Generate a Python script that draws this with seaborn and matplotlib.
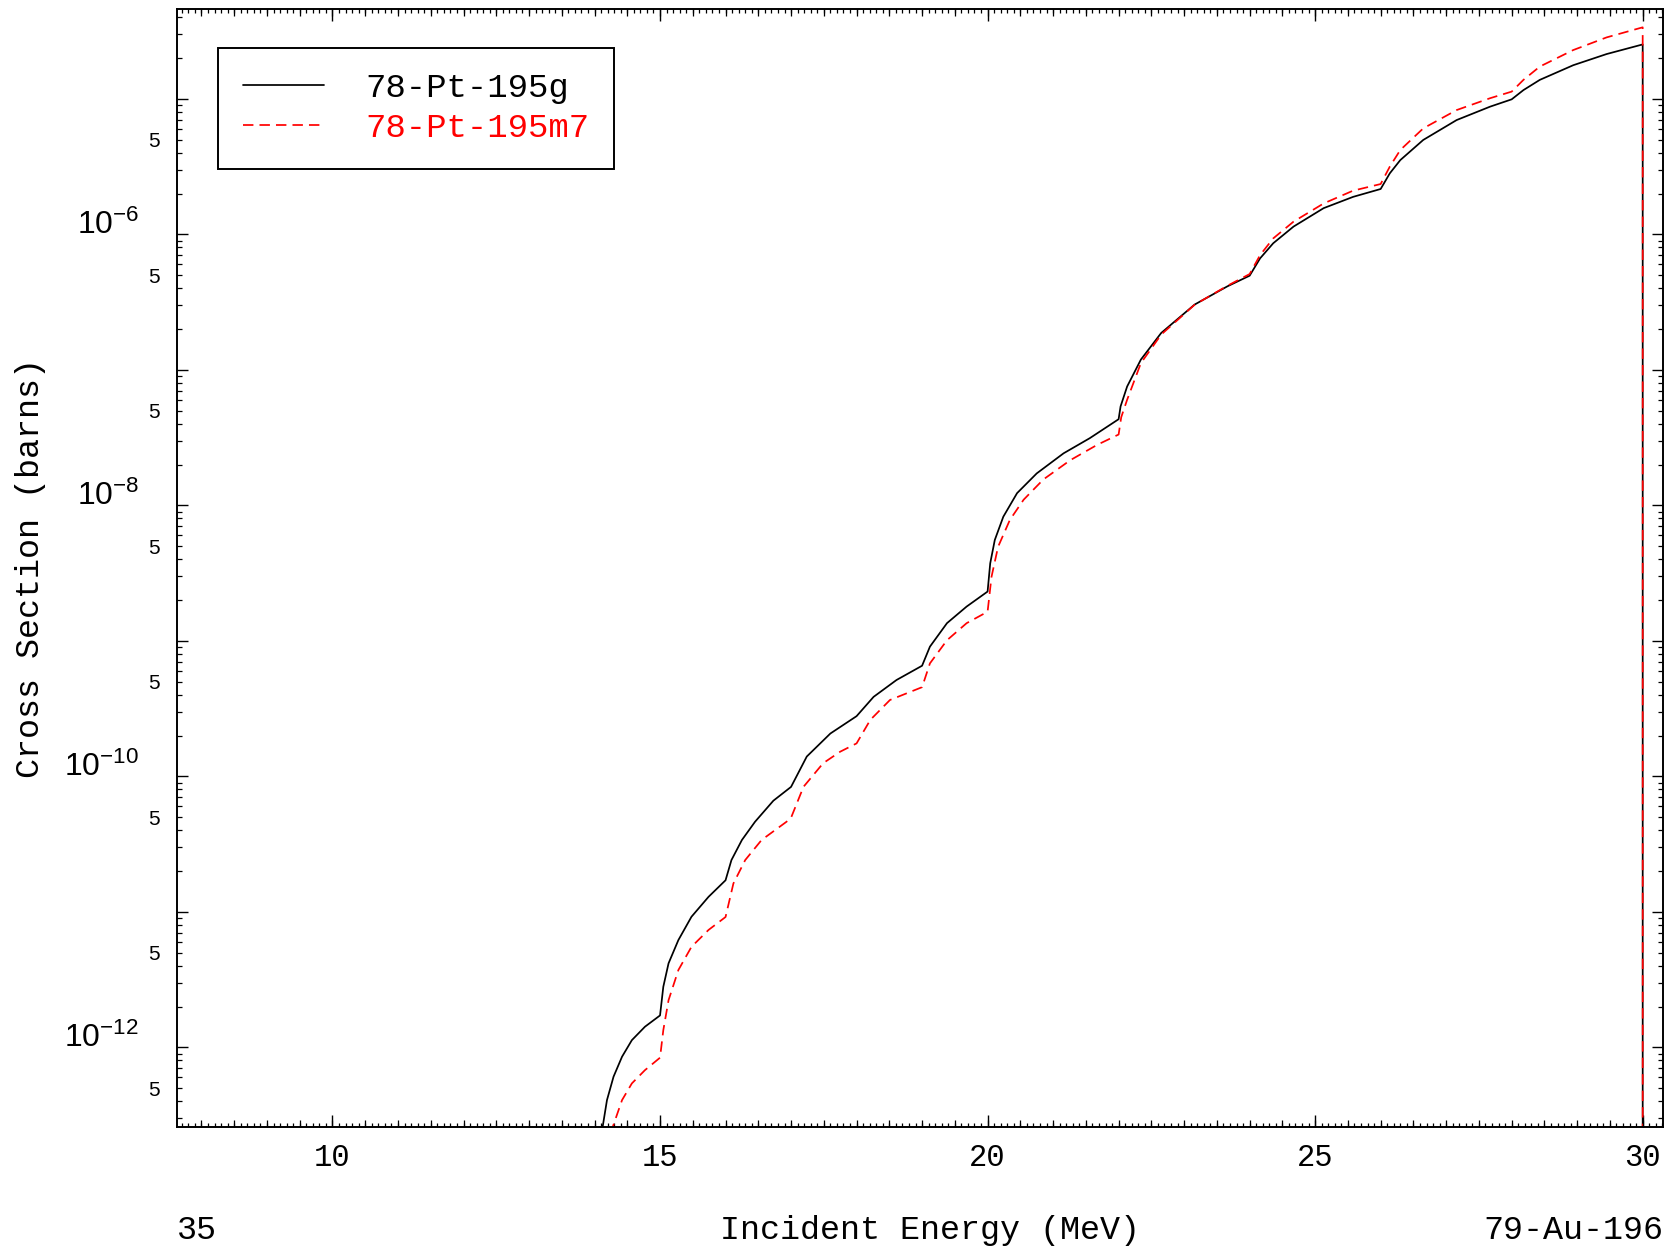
import numpy as np
import pandas as pd
import matplotlib
matplotlib.use("Agg")
import matplotlib.pyplot as plt
import seaborn as sns
from matplotlib.ticker import (FuncFormatter, MultipleLocator,
                               NullFormatter, NullLocator, FixedLocator)

# ---------------- data ----------------
energy_g = [14.08, 14.12, 14.19, 14.29, 14.42, 14.57, 14.77, 15.00, 15.05, 15.13,
            15.28, 15.48, 15.74, 16.00, 16.09, 16.25, 16.45, 16.73, 17.00, 17.24,
            17.60, 18.00, 18.26, 18.61, 19.00, 19.12, 19.38, 19.68, 20.00, 20.04,
            20.11, 20.24, 20.45, 20.75, 21.16, 21.56, 22.00, 22.03, 22.13, 22.34,
            22.65, 23.16, 23.66, 24.00, 24.16, 24.36, 24.67, 25.13, 25.58, 26.00,
            26.14, 26.30, 26.65, 27.16, 27.67, 28.00, 28.18, 28.43, 28.94, 29.45,
            30.00, 30.00]
xs_g = [1.74e-13, 2.52e-13, 4.08e-13, 6.07e-13, 8.53e-13, 1.13e-12, 1.42e-12, 1.72e-12, 2.80e-12, 4.17e-12,
        6.19e-12, 9.20e-12, 1.29e-11, 1.71e-11, 2.41e-11, 3.39e-11, 4.62e-11, 6.61e-11, 8.36e-11, 1.40e-10,
        2.07e-10, 2.78e-10, 3.86e-10, 5.14e-10, 6.55e-10, 9.06e-10, 1.35e-9, 1.79e-9, 2.31e-9, 3.73e-9,
        5.55e-9, 8.24e-9, 1.23e-8, 1.72e-8, 2.42e-8, 3.13e-8, 4.32e-8, 5.37e-8, 7.53e-8, 1.19e-7,
        1.87e-7, 3.03e-7, 4.13e-7, 4.95e-7, 6.65e-7, 8.59e-7, 1.14e-6, 1.56e-6, 1.89e-6, 2.16e-6,
        2.82e-6, 3.53e-6, 4.97e-6, 6.97e-6, 8.75e-6, 9.91e-6, 1.16e-5, 1.38e-5, 1.77e-5, 2.14e-5,
        2.52e-5, 1e-14]

energy_m = [14.24, 14.27, 14.42, 14.57, 14.77, 15.00, 15.05, 15.13, 15.28, 15.48,
            15.74, 16.00, 16.12, 16.30, 16.55, 16.93, 17.00, 17.19, 17.49, 17.75,
            18.00, 18.21, 18.51, 19.00, 19.12, 19.38, 19.68, 20.00, 20.06, 20.16,
            20.34, 20.55, 20.85, 21.26, 21.67, 22.00, 22.04, 22.13, 22.34, 22.65,
            23.16, 23.66, 24.00, 24.16, 24.36, 24.67, 25.13, 25.58, 26.00, 26.14,
            26.30, 26.65, 27.16, 27.67, 28.00, 28.18, 28.43, 28.94, 29.45, 30.00,
            30.00]
xs_m = [1.74e-13, 2.52e-13, 4.08e-13, 5.42e-13, 6.79e-13, 8.39e-13, 1.34e-12, 2.23e-12, 3.72e-12, 5.52e-12,
        7.35e-12, 9.16e-12, 1.62e-11, 2.41e-11, 3.39e-11, 4.62e-11, 4.95e-11, 8.37e-11, 1.25e-10, 1.52e-10,
        1.75e-10, 2.61e-10, 3.66e-10, 4.55e-10, 6.82e-10, 1.01e-9, 1.35e-9, 1.64e-9, 2.97e-9, 4.94e-9,
        7.80e-9, 1.10e-8, 1.55e-8, 2.15e-8, 2.79e-8, 3.33e-8, 4.47e-8, 6.01e-8, 1.12e-7, 1.82e-7,
        3.02e-7, 4.17e-7, 5.09e-7, 7.03e-7, 9.33e-7, 1.24e-6, 1.69e-6, 2.10e-6, 2.35e-6, 3.16e-6,
        4.19e-6, 6.05e-6, 8.26e-6, 1.01e-5, 1.13e-5, 1.38e-5, 1.73e-5, 2.29e-5, 2.84e-5, 3.37e-5,
        1e-14]

label_g = "78-Pt-195g"
label_m = "78-Pt-195m7"
x_label = "Incident Energy (MeV)"
y_label = "Cross Section (barns)"
left_note = "35"
right_note = "79-Au-196"
x_major_ticks = [10, 15, 20, 25, 30]
y_decade_exponents = [-12, -11, -10, -9, -8, -7, -6, -5]
y_labelled_exponents = [-12, -10, -8, -6]
y_minor_mantissas = [2, 3, 4, 5, 6, 7, 8, 9]
y_labelled_mantissa = 5
x_limits = (7.622, 30.31)
y_limits = (2.57e-13, 4.60e-5)

# ---------------- style ----------------
sns.set_style("white")
plt.rcParams["font.family"] = ["Liberation Mono", "DejaVu Sans"]
plt.rcParams["axes.linewidth"] = 1.4
for k in ("text.color", "axes.labelcolor", "xtick.color", "ytick.color",
          "axes.edgecolor"):
    plt.rcParams[k] = "black"

W, H = 1675, 1253
fig = plt.figure(figsize=(W / 100, H / 100), dpi=100)
L, R = 176.7 / W, 1663 / W
B, T = 1 - 1127.3 / H, 1 - 9 / H
ax = fig.add_axes([L, B, R - L, T - B])

df_g = pd.DataFrame({"E": energy_g, "xs": xs_g})
df_m = pd.DataFrame({"E": energy_m, "xs": xs_m})
sns.lineplot(data=df_g, x="E", y="xs", estimator=None, sort=False,
             color="black", lw=1.25, ax=ax, label=label_g)
sns.lineplot(data=df_m, x="E", y="xs", estimator=None, sort=False,
             color="red", lw=1.25, ls="--", ax=ax, label=label_m)
ax.lines[-1].set_dashes((6, 3.5))

ax.set_yscale("log")
ax.set_xlim(*x_limits)
ax.set_ylim(*y_limits)
for s in ax.spines.values():
    s.set_visible(True)
    s.set_color("black")
    s.set_linewidth(1.4)

# x ticks
ax.xaxis.set_major_locator(FixedLocator(x_major_ticks))
ax.xaxis.set_minor_locator(MultipleLocator(0.1))
ax.tick_params(axis="x", which="major", direction="in", length=8.5, width=1.0,
               top=True, bottom=True, labelsize=22, pad=11)
ax.tick_params(axis="x", which="minor", direction="in", length=3, width=0.9,
               top=True, bottom=True)

# y ticks (only inside the visible range)
ylo, yhi = y_limits
major_y = [10.0 ** e for e in y_decade_exponents if ylo <= 10.0 ** e <= yhi]
minor_y = [m * 10.0 ** e for e in range(min(y_decade_exponents) - 1, max(y_decade_exponents) + 1)
           for m in y_minor_mantissas if ylo <= m * 10.0 ** e <= yhi]
ax.yaxis.set_major_locator(FixedLocator(major_y))
ax.yaxis.set_minor_locator(FixedLocator(minor_y))


def major_fmt(v, pos):
    e = int(round(np.log10(v)))
    return r"$\mathregular{10^{%d}}$" % e if e in y_labelled_exponents else ""


def minor_fmt(v, pos):
    m = v / 10 ** np.floor(np.log10(v) + 1e-9)
    return str(y_labelled_mantissa) if abs(m - y_labelled_mantissa) < 0.01 else ""


ax.yaxis.set_major_formatter(FuncFormatter(major_fmt))
ax.yaxis.set_minor_formatter(FuncFormatter(minor_fmt))
ax.tick_params(axis="y", which="major", direction="in", length=8, width=1.0,
               left=True, right=True, labelsize=23, pad=27,
               labelfontfamily="Liberation Sans")
ax.tick_params(axis="y", which="minor", direction="in", length=3.8, width=0.9,
               left=True, right=True, labelsize=15, pad=12,
               labelfontfamily="Liberation Sans")

# medium x ticks every 0.5 MeV
ax_m = fig.add_axes([L, B, R - L, T - B], frameon=False)
ax_m.patch.set_visible(False)
ax_m.set_xlim(*x_limits)
ax_m.set_yticks([])
ax_m.xaxis.set_major_locator(MultipleLocator(0.5))
ax_m.xaxis.set_major_formatter(NullFormatter())
ax_m.xaxis.set_minor_locator(NullLocator())
ax_m.tick_params(axis="x", which="major", direction="in", length=5, width=0.9,
                 top=True, bottom=True, labelbottom=False, labeltop=False)

# labels
ax.set_xlabel(x_label, fontsize=24)
ax.xaxis.set_label_coords(0.5068, -0.0927)
ax.xaxis.label.set_va("center")
ax.set_ylabel(y_label, fontsize=24)
ax.yaxis.set_label_coords(-0.0985, 0.5)
ax.yaxis.label.set_va("center")
ax.text(0.0, -0.0927, left_note, transform=ax.transAxes, ha="left", va="center",
        fontsize=24)
ax.text(1.0, -0.0927, right_note, transform=ax.transAxes, ha="right", va="center",
        fontsize=24)

# legend
leg = ax.legend(loc="upper left", bbox_to_anchor=(218 / W, 1 - 48 / H),
                bbox_transform=fig.transFigure, borderaxespad=0,
                prop={"family": "Liberation Mono", "size": 24.5},
                frameon=True, fancybox=False, edgecolor="black", framealpha=1,
                handlelength=2.4, handletextpad=1.2, borderpad=0.72,
                labelspacing=0.28)
leg.get_frame().set_linewidth(1.4)
leg.get_texts()[1].set_color("red")

fig.canvas.draw()
for t in ax.yaxis.get_major_ticks():
    t.label1.set_va("baseline")

fig.savefig("out.png", dpi=100)
